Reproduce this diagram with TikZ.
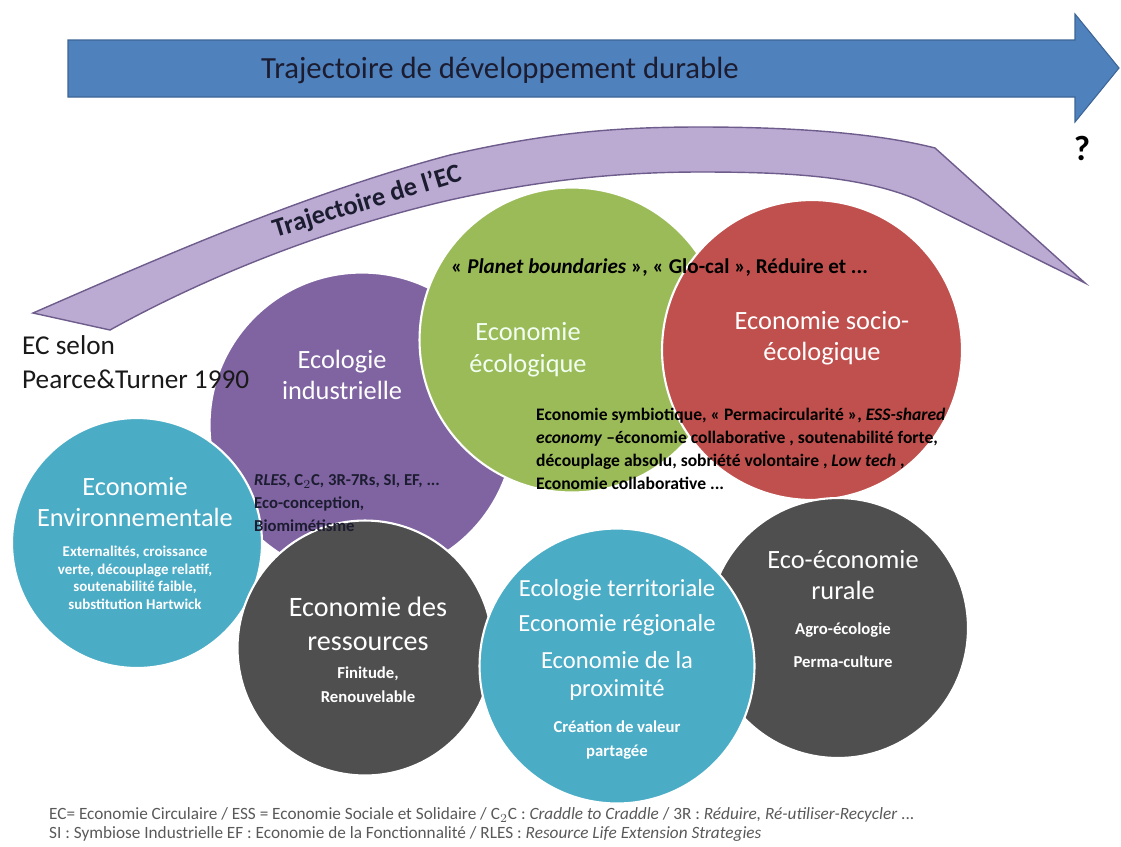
\documentclass[tikz,border=0pt]{standalone}
\usepackage{fontspec}
\setmainfont{Carlito}
\usepackage{tikz}
\usetikzlibrary{positioning}
\definecolor{bleuDD}{HTML}{4F81BD}
\definecolor{bleuBord}{HTML}{3C6595}
\definecolor{violetEI}{HTML}{8064A2}
\definecolor{vertEE}{HTML}{9BBB59}
\definecolor{rougeSE}{HTML}{C0504D}
\definecolor{turquoise}{HTML}{4BACC6}
\definecolor{grisR}{HTML}{4F4F4F}
\definecolor{lilas}{HTML}{BBABD3}
\definecolor{lilasBord}{HTML}{6E5C8C}
\definecolor{encre}{HTML}{1C1C30}

\begin{document}
\begin{tikzpicture}[x=0.02cm, y=-0.02cm,
    bulle/.style={circle, draw=white, line width=1.2pt, inner sep=0pt},
    titre/.style={text=white, align=center, font=\fontsize{15}{18}\selectfont},
    detail/.style={text=white, align=center, font=\bfseries\fontsize{8.5}{10}\selectfont},
    liste/.style={text=encre, align=left, anchor=west, font=\bfseries\fontsize{9.5}{13}\selectfont}]
    \useasboundingbox (0,0) rectangle (1121,846);

    \fill[bleuDD, draw=bleuBord, line width=0.6pt] (68,40) -- (1075,40) -- (1075,14) -- (1119,68) -- (1075,122) -- (1075,97) -- (68,97) -- cycle;
    \node[anchor=west, text=encre, font=\fontsize{17.5}{20}\selectfont] (dd) at (255,70) {Trajectoire de développement durable};

    \node[bulle, fill=violetEI, minimum size=6.1cm] (ei) at (362,425) {};
    \node[bulle, fill=turquoise, minimum size=5cm] (env) at (137,543) {};
    \node[bulle, fill=vertEE, minimum size=6.1cm] (eco) at (572,340) {};
    \node[bulle, fill=rougeSE, minimum size=6cm] (socio) at (812,350) {};
    \node[bulle, fill=grisR, minimum size=5.1cm] (res) at (365,648) {};
    \node[bulle, fill=grisR, minimum size=5.2cm] (rur) at (838,628) {};
    \node[bulle, fill=turquoise, minimum size=5.5cm] (terr) at (617,666) {};

    \fill[lilas, draw=lilasBord, line width=0.8pt] (33,313) .. controls (150,262) and (300,195) .. (450,155) .. controls (550,132) and (620,127) .. (700,127) .. controls (800,127) and (880,134) .. (935,148) -- (1085,283) -- (918,200) .. controls (860,175) and (780,172) .. (700,172) .. controls (620,172) and (540,180) .. (450,200) .. controls (320,230) and (200,280) .. (110,330) -- cycle;
    \node[rotate=17, text=encre, font=\bfseries\fontsize{15}{17}\selectfont] (tec) at (367,202) {Trajectoire de l’EC};
    \node[text=black, font=\bfseries\fontsize{20}{22}\selectfont] (q) at (1082,148) {?};

    \node[anchor=west, align=left, text=black!90, font=\fontsize{15.5}{19.5}\selectfont] (pt) at (16,362) {EC selon\\Pearce\&Turner 1990};

    \node[titre] (ei-t) at (342,375) {Ecologie\\industrielle};
    \node[liste] (ei-l) at (248,503) {\textit{RLES}, C$_2$C, 3R-7Rs, SI, EF, ...\\Eco-conception,\\Biomimétisme};

    \node[anchor=west, text=black, font=\bfseries\fontsize{12}{14}\selectfont] (pb) at (445,268) {« \textit{Planet boundaries} », « Glo-cal », Réduire et ...};
    \node[titre, text=green!5!white] (eco-t) at (528,350) {Economie\\écologique};
    \node[titre] (socio-t) at (822,338) {Economie socio-\\écologique};
    \node[liste, text=black, font=\bfseries\fontsize{10}{13}\selectfont] (eco-l) at (530,449) {Economie symbiotique, « Permacircularité », \textit{ESS-shared}\\\textit{economy} –économie collaborative , soutenabilité forte,\\découplage absolu, sobriété volontaire , \textit{Low tech} ,\\Economie collaborative ...};

    \node[titre] (env-t) at (135,502) {Economie\\Environnementale};
    \node[detail] (env-l) at (135,578) {Externalités, croissance\\verte, découplage relatif,\\soutenabilité faible,\\substitution Hartwick};

    \node[titre, font=\fontsize{16}{19}\selectfont] (res-t) at (368,624) {Economie des\\ressources};
    \node[detail, font=\bfseries\fontsize{9.5}{13.5}\selectfont] (res-l) at (368,685) {Finitude,\\Renouvelable};

    \node[titre, font=\fontsize{14}{16}\selectfont] (terr-a) at (617,590) {Ecologie territoriale};
    \node[titre, font=\fontsize{14}{16}\selectfont] (terr-b) at (617,625) {Economie régionale};
    \node[titre, font=\fontsize{14}{16}\selectfont] (terr-c) at (617,676) {Economie de la\\proximité};
    \node[detail, font=\bfseries\fontsize{9.5}{13.5}\selectfont] (terr-d) at (617,740) {Création de valeur\\partagée};

    \node[titre] (rur-t) at (843,575) {Eco-économie\\rurale};
    \node[detail, font=\bfseries\fontsize{9.5}{11}\selectfont] (rur-a) at (843,630) {Agro-écologie};
    \node[detail, font=\bfseries\fontsize{9.5}{11}\selectfont] (rur-b) at (843,662) {Perma-culture};

    \node[anchor=west, text=black!65, font=\fontsize{9.8}{10}\selectfont] (note1) at (43,815) {EC= Economie Circulaire / ESS = Economie Sociale et Solidaire / C$_2$C : \textit{Craddle to Craddle} / 3R : \textit{Réduire, Ré-utiliser-Recycler} ...};
    \node[anchor=west, text=black!65, font=\fontsize{9.8}{10}\selectfont] (note2) at (43,834) {SI : Symbiose Industrielle EF : Economie de la Fonctionnalité / RLES : \textit{Resource Life Extension Strategies}};
\end{tikzpicture}
\end{document}
